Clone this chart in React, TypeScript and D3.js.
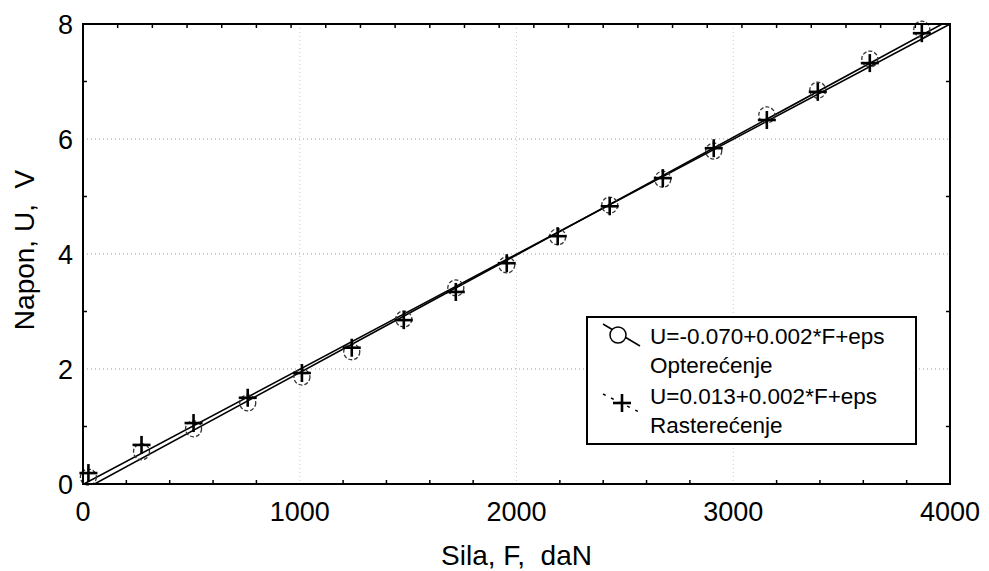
import React from 'react';
import * as d3 from 'd3';

// measured points (F in daN, U in V)
const sila = [25, 270, 510, 760, 1010, 1240, 1480, 1720, 1955, 2190, 2430, 2675, 2910, 3155, 3390, 3630, 3870];
const opterecenje = [0.12, 0.56, 0.96, 1.41, 1.86, 2.3, 2.87, 3.41, 3.81, 4.3, 4.85, 5.3, 5.79, 6.42, 6.85, 7.39, 7.91];
const rasterecenje = [0.19, 0.68, 1.06, 1.5, 1.93, 2.37, 2.85, 3.34, 3.84, 4.31, 4.83, 5.32, 5.84, 6.33, 6.82, 7.32, 7.84];

const xTicks = [0, 1000, 2000, 3000, 4000];
const yTicks = [0, 2, 4, 6, 8];
const legendLabels = ['U=-0.070+0.002*F+eps', 'Optere\u0107enje', 'U=0.013+0.002*F+eps', 'Rastere\u0107enje'];

const W = 989;
const H = 571;
const left = 83, right = 950, top = 24, bottom = 484;
const font = 'Arial, "Liberation Sans", sans-serif';

const fit = (xs: number[], ys: number[]) => {
  const mx = d3.mean(xs)!;
  const my = d3.mean(ys)!;
  const sxy = d3.sum(xs, (x, i) => (x - mx) * (ys[i] - my));
  const sxx = d3.sum(xs, x => (x - mx) * (x - mx));
  const b = sxy / sxx;
  return { a: my - b * mx, b };
};

export default function App() {
  const x = d3.scaleLinear().domain([0, 4000]).range([left, right]);
  const y = d3.scaleLinear().domain([0, 8]).range([bottom, top]);

  const fits = [fit(sila, opterecenje), fit(sila, rasterecenje)];
  const line = d3.line<number[]>().x(d => x(d[0])).y(d => y(d[1]));

  const bottomMinor = d3.range(200, 4000, 200).filter(v => v % 1000 !== 0);
  const topMinor = d3.range(160, 4000, 160);
  const yMinor = [1, 3, 5, 7];

  const plus = (cx: number, cy: number, s: number, key: string | number) => (
    <g key={key} stroke="#000" strokeWidth={2.6}>
      <line x1={cx - s} x2={cx + s} y1={cy} y2={cy} />
      <line x1={cx} x2={cx} y1={cy - s} y2={cy + s} />
    </g>
  );

  return (
    <svg width={W} height={H} style={{ position: 'absolute', left: 0, top: 0, background: '#fff' }}>
      <defs>
        <clipPath id="plot">
          <rect x={left} y={top} width={right - left} height={bottom - top} />
        </clipPath>
      </defs>

      {/* grid */}
      <g stroke="#999" strokeWidth={1} strokeDasharray="1,3">
        {yTicks.slice(1, -1).map(t => (
          <line key={'gy' + t} x1={left} x2={right} y1={y(t)} y2={y(t)} />
        ))}
        {xTicks.slice(1, -1).map(t => (
          <line key={'gx' + t} x1={x(t)} x2={x(t)} y1={top} y2={bottom} stroke="#ccc" />
        ))}
      </g>

      {/* minor ticks */}
      <g stroke="#000" strokeWidth={1.5}>
        {bottomMinor.map(t => <line key={'bm' + t} x1={x(t)} x2={x(t)} y1={bottom} y2={bottom - 4} />)}
        {topMinor.map(t => <line key={'tm' + t} x1={x(t)} x2={x(t)} y1={top} y2={top + 4} />)}
        {yMinor.map(t => <line key={'lm' + t} x1={left} x2={left + 4} y1={y(t)} y2={y(t)} />)}
        {yMinor.map(t => <line key={'rm' + t} x1={right} x2={right - 4} y1={y(t)} y2={y(t)} />)}
      </g>

      {/* regression lines */}
      <g clipPath="url(#plot)" fill="none" stroke="#000" strokeWidth={1.6}>
        {fits.map((f, i) => (
          <path key={i} d={line([[0, f.a], [4000, f.a + f.b * 4000]])!} />
        ))}
      </g>

      {/* markers */}
      <g fill="none" stroke="#333" strokeWidth={1.3} strokeDasharray="4,2">
        {sila.map((f, i) => (
          <circle key={'c' + i} cx={x(f)} cy={y(opterecenje[i])} r={8} />
        ))}
      </g>
      <g>{sila.map((f, i) => plus(x(f), y(rasterecenje[i]), 9, 'p' + i))}</g>

      {/* frame */}
      <rect x={left} y={top} width={right - left} height={bottom - top} fill="none" stroke="#000" strokeWidth={2} />

      {/* tick labels */}
      <g fontFamily={font} fontSize={27} fill="#000">
        {xTicks.map(t => (
          <text key={'xt' + t} x={x(t)} y={521} textAnchor="middle">{t}</text>
        ))}
        {yTicks.map(t => (
          <text key={'yt' + t} x={73} y={y(t)} dy="0.36em" textAnchor="end">{t}</text>
        ))}
      </g>

      {/* axis titles */}
      <text x={(left + right) / 2} y={565} textAnchor="middle" fontFamily={font} fontSize={28}>
        {'Sila, F,\u00a0 daN'}
      </text>
      <text transform="translate(34, 250) rotate(-90)" textAnchor="middle" fontFamily={font} fontSize={28}>
        {'Napon, U,\u00a0 V'}
      </text>

      {/* legend */}
      <g>
        <rect x={587} y={317} width={329} height={127} fill="#fff" stroke="#000" strokeWidth={2} />
        <line x1={603} y1={324} x2={640} y2={346} stroke="#000" strokeWidth={1.5} />
        <circle cx={618} cy={335} r={8} fill="#fff" stroke="#000" strokeWidth={1.5} />
        <line x1={603} y1={394} x2={641} y2={413} stroke="#000" strokeWidth={1.5} strokeDasharray="3,6" />
        {plus(622, 403, 9, 'lp')}
        <g fontFamily={font} fontSize={22.5}>
          {legendLabels.map((l, i) => (
            <text key={l} x={650} y={[344, 373, 404, 433][i]}>{l}</text>
          ))}
        </g>
      </g>
    </svg>
  );
}
